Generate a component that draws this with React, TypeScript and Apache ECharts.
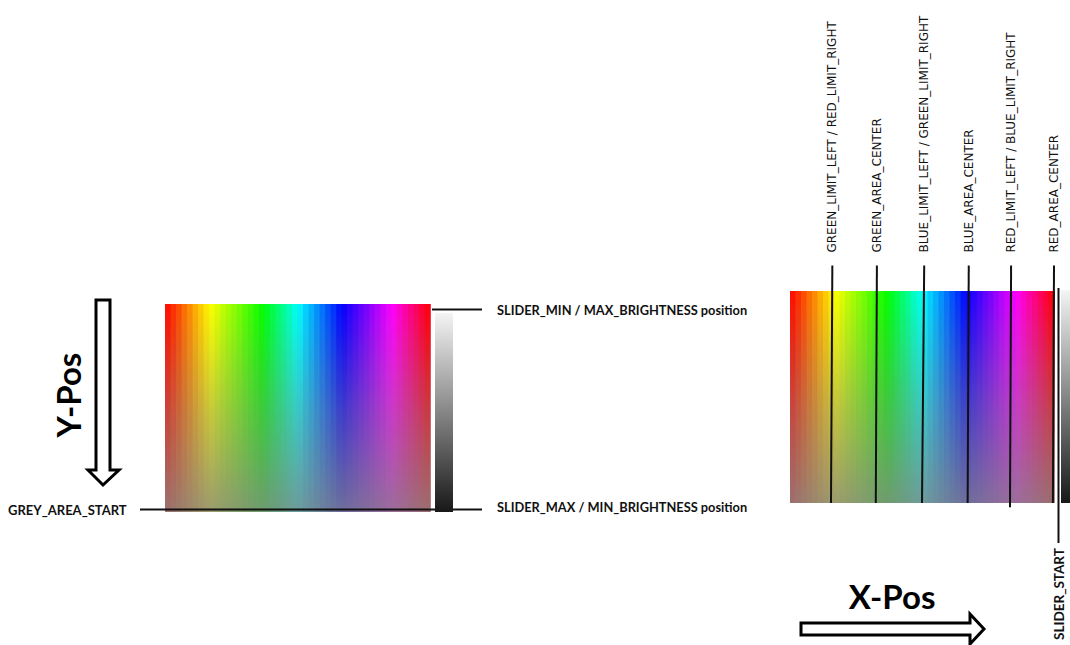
import React, { useEffect, useRef } from "react";
import * as echarts from "echarts";

// Hue (degrees) of each vertical stripe of the colour field, read left to right
const hues = [4, 11, 18, 26, 33, 41, 48, 55, 62, 68, 75, 81, 87, 93, 100, 106, 112, 118, 127, 137, 146, 155, 165, 174, 183, 191, 198, 206, 213, 221, 228, 236, 243, 250, 256, 263, 269, 276, 283, 289, 296, 303, 312, 321, 329, 338, 347, 356];

// Annotation markers on the right colour field (in stripe units)
const markerLabels = [
  "GREEN_LIMIT_LEFT / RED_LIMIT_RIGHT",
  "GREEN_AREA_CENTER",
  "BLUE_LIMIT_LEFT / GREEN_LIMIT_RIGHT",
  "BLUE_AREA_CENTER",
  "RED_LIMIT_LEFT / BLUE_LIMIT_RIGHT",
  "RED_AREA_CENTER",
];
const markerTopX = [7.7, 15.8, 24.4, 32.5, 40.2, 48.0];
const markerBottomX = [7.45, 15.6, 24.0, 32.3, 40.0, 47.8];
const markerBottomY = [0, 0, 0, 0, -0.02, 0];
const markerTopY = 1.12;

const CALIBRI = "Lato, 'Open Sans', sans-serif";

export default function App() {
  const ref = useRef<HTMLDivElement>(null);

  useEffect(() => {
    if (!ref.current) return;
    const chart = echarts.init(ref.current, null, { renderer: "svg" });

    const pickerRender = (params: any, api: any) => {
      const i = api.value(0);
      const h = api.value(1);
      const a = api.coord([i, 1]);
      const b = api.coord([i + 1, 0]);
      return {
        type: "rect",
        shape: { x: a[0], y: a[1], width: b[0] - a[0] + 0.8, height: b[1] - a[1] },
        style: {
          fill: new echarts.graphic.LinearGradient(0, 0, 0, 1, [
            { offset: 0, color: `hsl(${h},100%,50%)` },
            { offset: 0.5, color: `hsl(${h},58%,51%)` },
            { offset: 1, color: `hsl(${h},19%,52%)` },
          ]),
        },
      };
    };

    const markerRender = (params: any, api: any) => {
      const top = api.coord([api.value(0), markerTopY]);
      const bot = api.coord([api.value(1), api.value(2)]);
      return {
        type: "group",
        children: [
          {
            type: "line",
            shape: { x1: top[0], y1: top[1], x2: bot[0], y2: bot[1] },
            style: { stroke: "#111", lineWidth: 2 },
          },
          {
            type: "text",
            x: top[0],
            y: top[1] - 13,
            rotation: Math.PI / 2,
            style: {
              text: markerLabels[params.dataIndex],
              font: "12px 'DejaVu Sans', sans-serif",
              fill: "#111",
              align: "left",
              verticalAlign: "middle",
            },
          },
        ],
      };
    };

    const pickerData = hues.map((h, i) => [i, h]);
    const markerData = markerTopX.map((x, i) => [x, markerBottomX[i], markerBottomY[i]]);

    const greyGrad = () =>
      new echarts.graphic.LinearGradient(0, 0, 0, 1, [
        { offset: 0, color: "#f4f4f4" },
        { offset: 1, color: "#181818" },
      ]);

    chart.setOption({
      animation: false,
      grid: [
        { left: 165, top: 304, width: 265, height: 208 },
        { left: 790, top: 291, width: 264, height: 212 },
      ],
      xAxis: [
        { type: "value", gridIndex: 0, min: 0, max: 48, show: false },
        { type: "value", gridIndex: 1, min: 0, max: 48, show: false },
      ],
      yAxis: [
        { type: "value", gridIndex: 0, min: 0, max: 1, show: false },
        { type: "value", gridIndex: 1, min: 0, max: 1, show: false },
      ],
      series: [
        {
          type: "custom",
          name: "colour field (Y)",
          xAxisIndex: 0,
          yAxisIndex: 0,
          silent: true,
          renderItem: pickerRender,
          encode: { x: 0, y: 1 },
          data: pickerData,
        },
        {
          type: "custom",
          name: "colour field (X)",
          xAxisIndex: 1,
          yAxisIndex: 1,
          silent: true,
          renderItem: pickerRender,
          encode: { x: 0, y: 1 },
          data: pickerData,
        },
        {
          type: "custom",
          name: "markers",
          xAxisIndex: 1,
          yAxisIndex: 1,
          silent: true,
          z: 5,
          renderItem: markerRender,
          encode: { x: 0, y: 2 },
          data: markerData,
        },
      ],
      graphic: [
        // Y-Pos arrow
        {
          type: "polygon",
          z: 100,
          shape: {
            points: [
              [96, 300], [110, 300], [110, 470], [119, 470], [103, 485], [88, 470], [96, 470],
            ],
          },
          style: { fill: "#fff", stroke: "#000", lineWidth: 3, lineJoin: "miter" },
        },
        {
          type: "text",
          z: 100,
          x: 68,
          y: 395,
          rotation: Math.PI / 2,
          style: { text: "Y-Pos", font: `bold 33px ${CALIBRI}`, fill: "#000", align: "center", verticalAlign: "middle" },
        },
        // X-Pos arrow
        {
          type: "polygon",
          z: 100,
          shape: {
            points: [
              [801, 623], [970, 623], [970, 614], [984, 629], [970, 644], [970, 635], [801, 635],
            ],
          },
          style: { fill: "#fff", stroke: "#000", lineWidth: 3, lineJoin: "miter" },
        },
        {
          type: "text",
          z: 100,
          x: 892,
          y: 596,
          style: { text: "X-Pos", font: `bold 33px ${CALIBRI}`, fill: "#000", align: "center", verticalAlign: "middle" },
        },
        // left guides
        {
          type: "line",
          z: 100,
          shape: { x1: 140, y1: 509.5, x2: 482, y2: 509.5 },
          style: { stroke: "#111", lineWidth: 2 },
        },
        {
          type: "line",
          z: 100,
          shape: { x1: 432, y1: 309.5, x2: 482, y2: 309.5 },
          style: { stroke: "#111", lineWidth: 2 },
        },
        {
          type: "rect",
          z: 101,
          shape: { x: 435, y: 313, width: 18, height: 199 },
          style: { fill: greyGrad() },
        },
        {
          type: "text",
          z: 100,
          x: 8,
          y: 510,
          style: { text: "GREY_AREA_START", font: `bold 13px ${CALIBRI}`, fill: "#111", align: "left", verticalAlign: "middle" },
        },
        {
          type: "text",
          z: 100,
          x: 497,
          y: 310,
          style: { text: "SLIDER_MIN / MAX_BRIGHTNESS position", font: `bold 12.8px ${CALIBRI}`, fill: "#111", align: "left", verticalAlign: "middle" },
        },
        {
          type: "text",
          z: 100,
          x: 497,
          y: 507,
          style: { text: "SLIDER_MAX / MIN_BRIGHTNESS position", font: `bold 12.8px ${CALIBRI}`, fill: "#111", align: "left", verticalAlign: "middle" },
        },
        // right slider
        {
          type: "rect",
          z: 100,
          shape: { x: 1061, y: 290, width: 12, height: 213 },
          style: { fill: greyGrad() },
        },
        {
          type: "line",
          z: 101,
          shape: { x1: 1058.5, y1: 288, x2: 1058.5, y2: 543 },
          style: { stroke: "#111", lineWidth: 2 },
        },
        {
          type: "text",
          z: 100,
          x: 1059,
          y: 640,
          rotation: Math.PI / 2,
          style: { text: "SLIDER_START", font: `bold 13.5px ${CALIBRI}`, fill: "#111", align: "left", verticalAlign: "middle" },
        },
      ],
    });

    return () => chart.dispose();
  }, []);

  return (
    <div
      ref={ref}
      style={{ position: "absolute", left: 0, top: 0, width: 1070, height: 645, background: "#fff" }}
    />
  );
}
